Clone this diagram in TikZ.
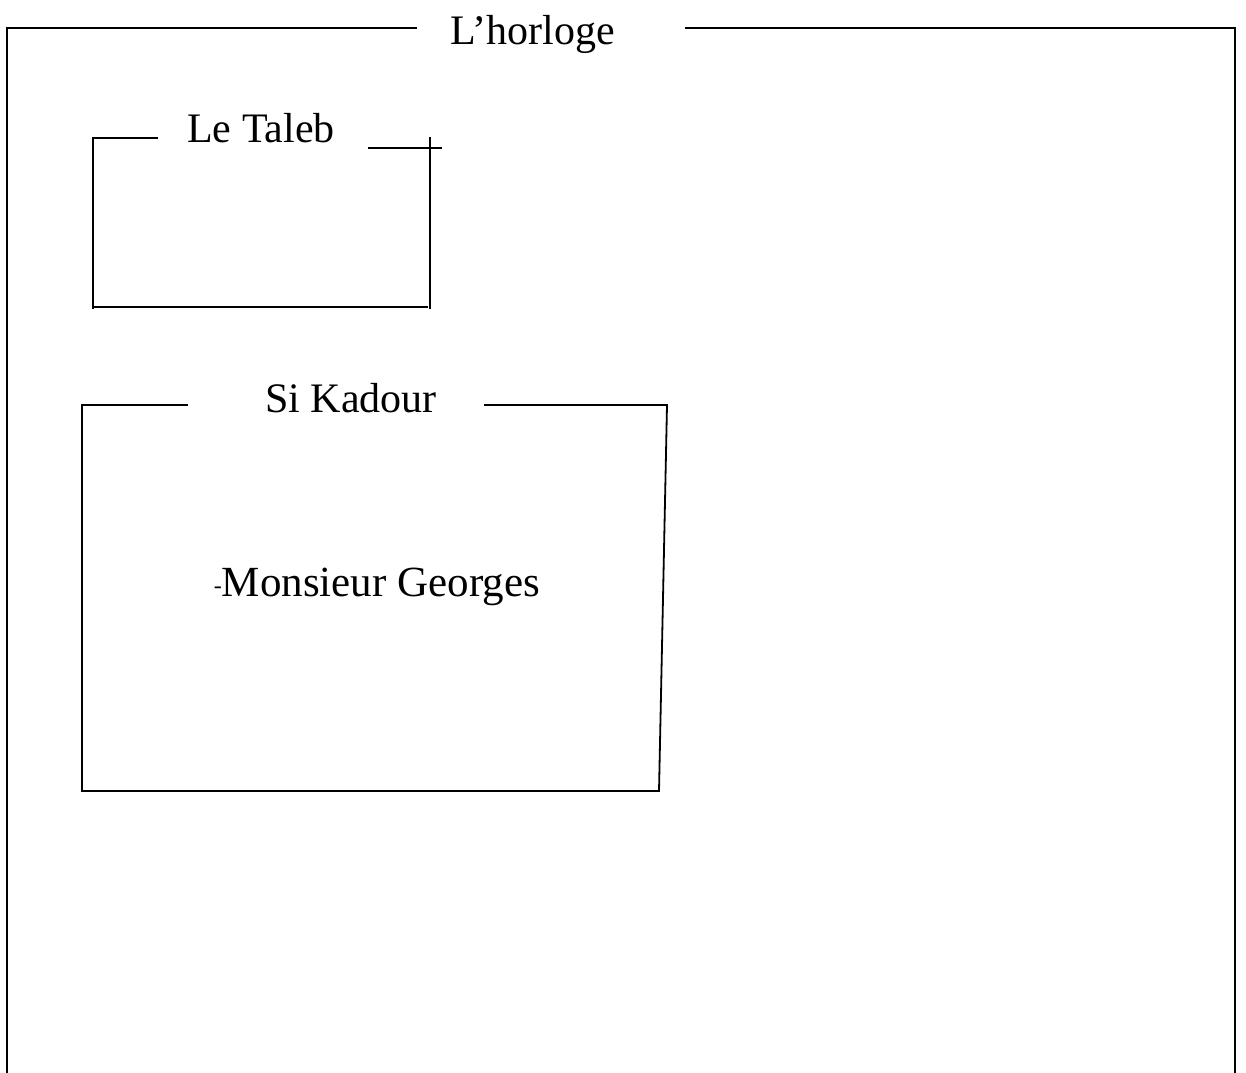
\documentclass[tikz,border=0pt]{standalone}
\usepackage{fontspec}
\setmainfont{Liberation Serif}
\begin{document}
\begin{tikzpicture}[x=1pt,y=-1pt,
  frameline/.style={line width=1.8pt,line cap=rect},
  title/.style={anchor=base,inner sep=0pt,font=\fontsize{42}{50}\selectfont}]
\useasboundingbox (0,0) rectangle (1246,1072);
% outer frame: L'horloge
\node[title] (horloge) at (533,44) {L’horloge};
\draw[frameline] (416,28) -- (7,28) -- (7,1075);
\draw[frameline] (686,28) -- (1235,28) -- (1235,1075);
% Le Taleb
\node[title] (taleb) at (261,142) {Le Taleb};
\draw[frameline] (157,138) -- (93,138) -- (93,308);
\draw[frameline] (93,307) -- (427,307);
\draw[frameline] (369,148) -- (441,148);
\draw[frameline] (430,138) -- (430,308);
% Si Kadour
\node[title] (kadour) at (351,412) {Si Kadour};
\draw[frameline] (187,405) -- (82,405) -- (82,791) -- (659,791) -- (667,405) -- (485,405);
% Monsieur Georges
\node[title] (georges) at (377,596) {\raisebox{3pt}{\fontsize{24}{28}\selectfont -}\fontsize{43}{50}\selectfont Monsieur Georges};
\end{tikzpicture}
\end{document}
